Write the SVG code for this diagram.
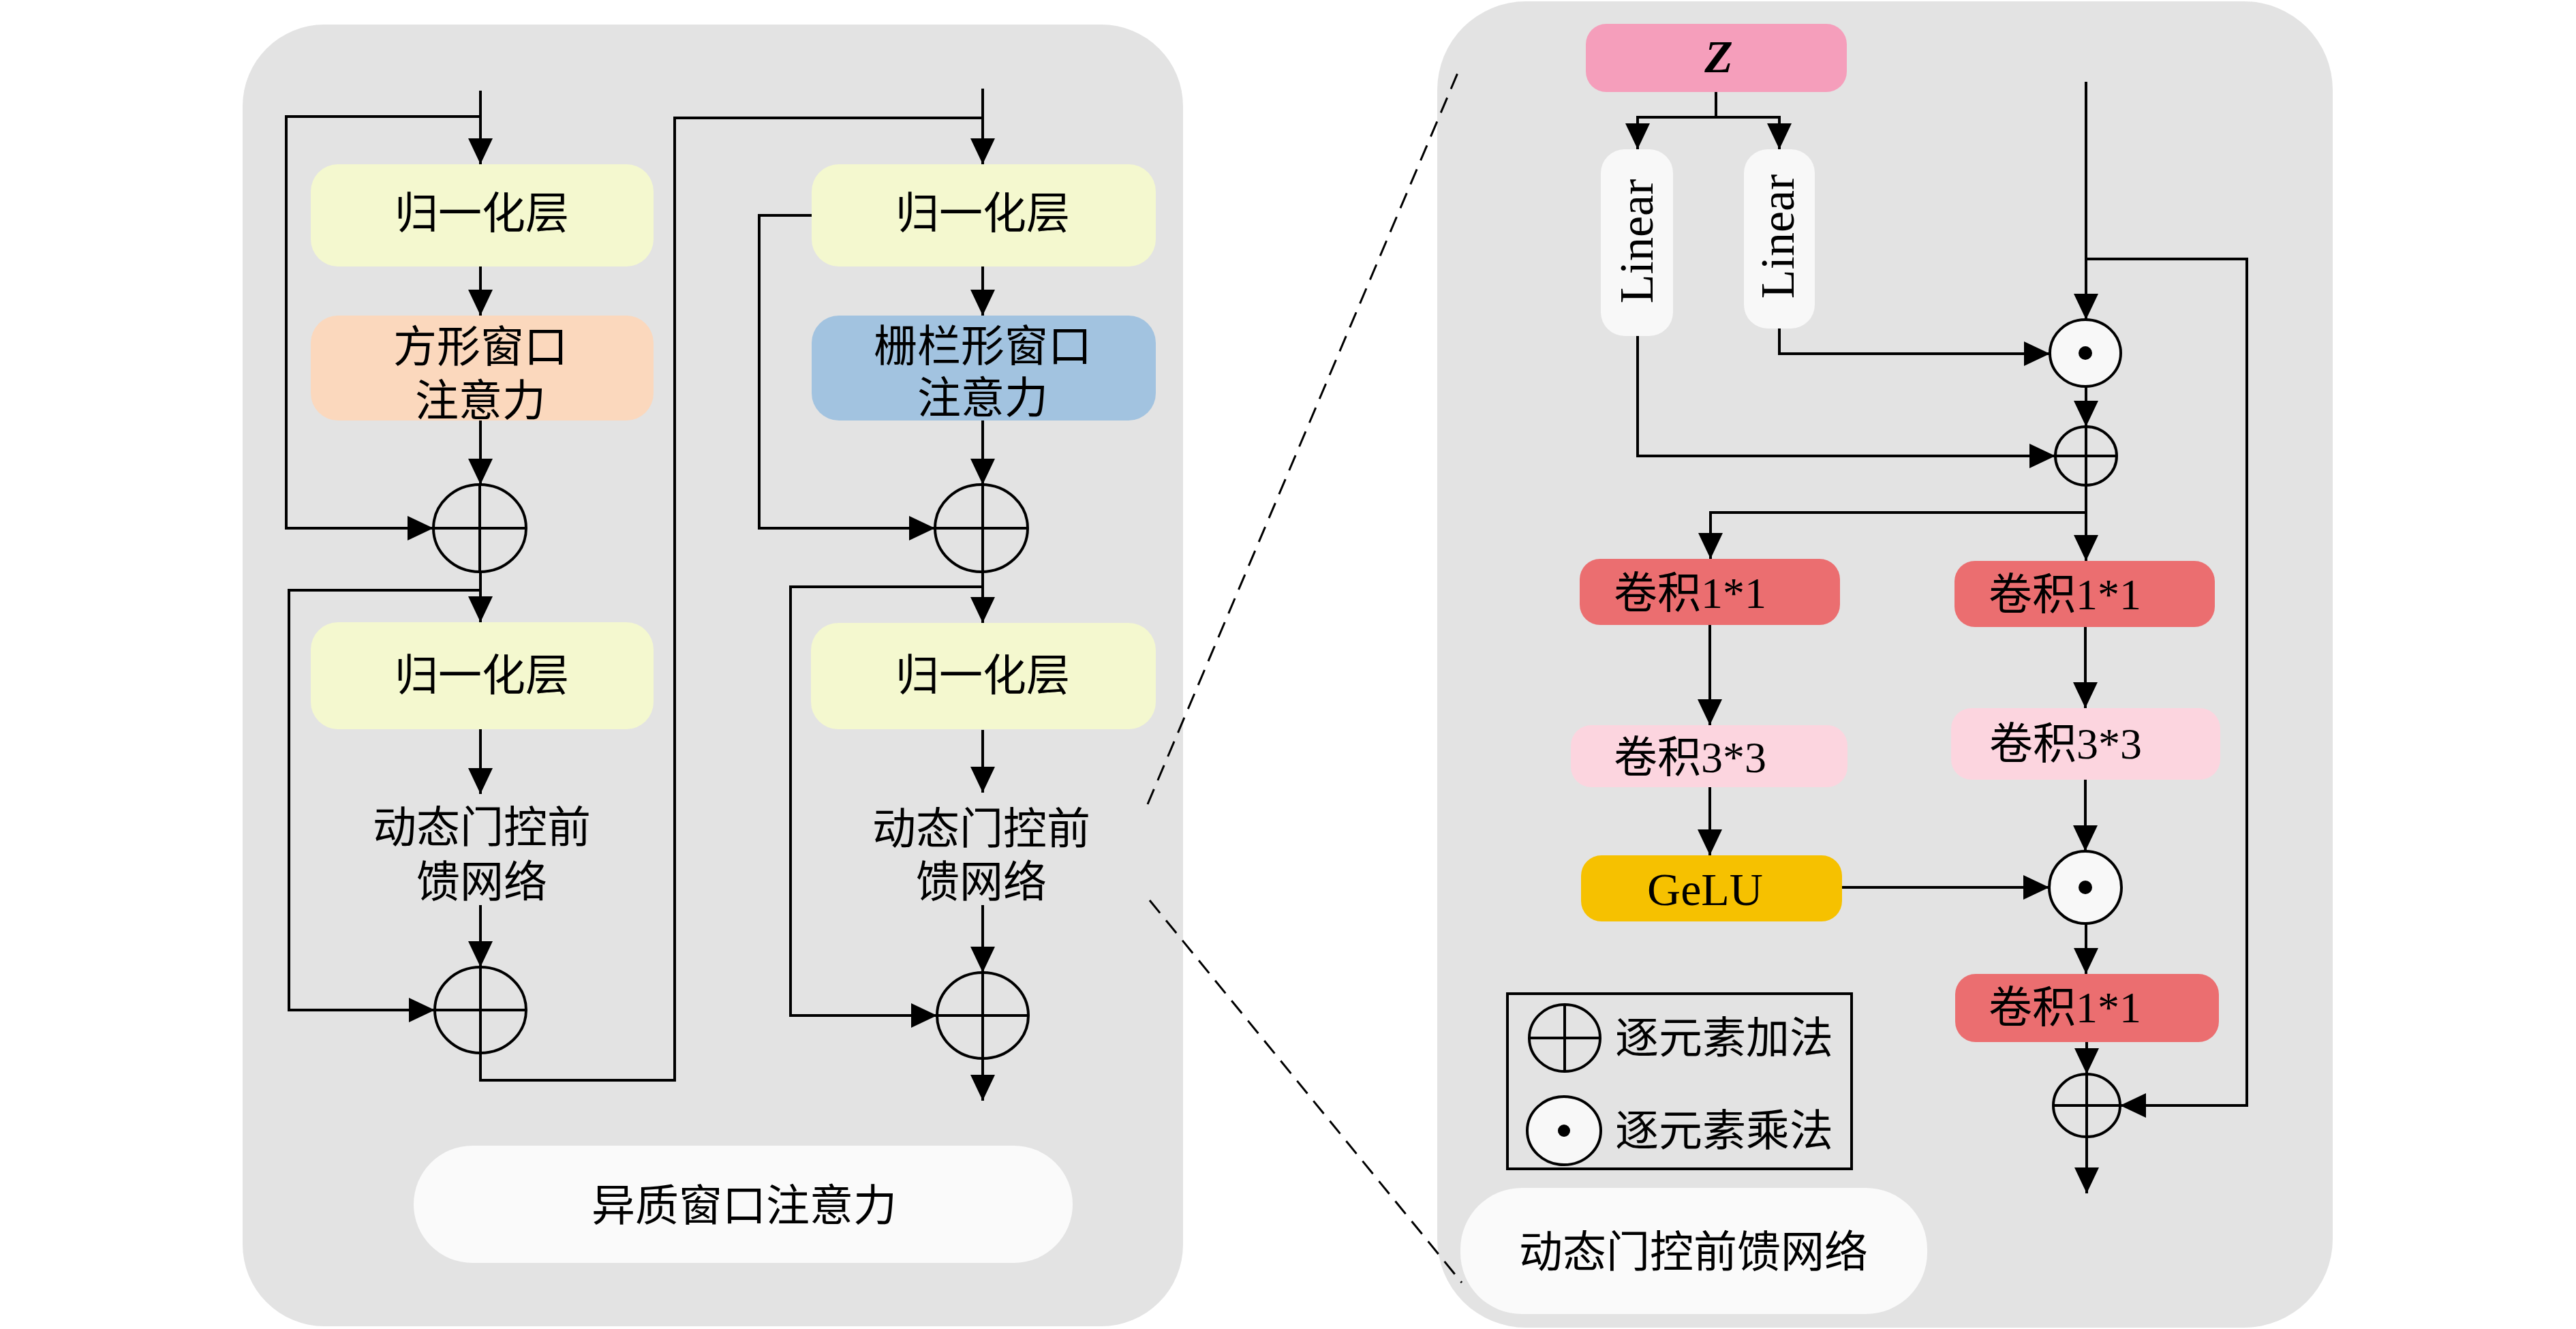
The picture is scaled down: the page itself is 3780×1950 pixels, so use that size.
<svg xmlns="http://www.w3.org/2000/svg" width="3780" height="1950" viewBox="0 0 3780 1950">
<defs>
<marker id="ah" markerUnits="userSpaceOnUse" markerWidth="38" markerHeight="36" refX="38" refY="18" orient="auto" viewBox="0 0 38 36"><path d="M0,0 L38,18 L0,36 z" fill="#000"/></marker>
<style>
.panel{fill:#E3E3E3;}
.lbl{fill:#FAFAFA;}
.norm{fill:#F4F8CF;}
.sq{fill:#FBD8BD;}
.st{fill:#A2C3E0;}
.z{fill:#F59EBB;}
.lin{fill:#F8F8F8;}
.c1{fill:#EB6E70;}
.c3{fill:#FCD5DF;}
.gelu{fill:#F6C100;}
.t{font-family:'Liberation Serif','Noto Sans CJK SC',serif;font-size:64px;fill:#000;text-anchor:middle;}
.tl{font-family:'Liberation Serif','Noto Sans CJK SC',serif;font-size:64px;fill:#000;text-anchor:start;}
.w{fill:none;stroke:#000;stroke-width:4;}
.a{fill:none;stroke:#000;stroke-width:4;marker-end:url(#ah);}
.sym{fill:none;stroke:#000;stroke-width:4;}
.symw{fill:#F8F8F8;stroke:#000;stroke-width:4;}
.dash{fill:none;stroke:#000;stroke-width:3;stroke-dasharray:24 14;}
</style>
</defs>
<rect width="3780" height="1950" fill="#FFFFFF"/>

<g id="panel-left"><rect class="panel" x="356" y="36" width="1380" height="1910" rx="120"/></g>
<g id="panel-right"><rect class="panel" x="2109" y="2" width="1314" height="1946" rx="130"/></g>

<g id="connectors">
<!-- left column 1 -->
<path class="a" d="M705,133 V241"/>
<path class="a" d="M705,171 H420 V775 H636"/>
<path class="a" d="M705,391 V463"/>
<path class="a" d="M705,617 V711"/>
<path class="a" d="M705,839 V913"/>
<path class="a" d="M705,866 H424 V1482 H638"/>
<path class="a" d="M705,1070 V1165"/>
<path class="a" d="M705,1328 V1419"/>
<path class="w" d="M705,1545 V1585 H990 V173 H1442"/>
<!-- left column 2 -->
<path class="a" d="M1442,130 V241"/>
<path class="a" d="M1191,316 H1114 V775 H1372"/>
<path class="a" d="M1442,391 V463"/>
<path class="a" d="M1442,617 V711"/>
<path class="a" d="M1442,839 V914"/>
<path class="a" d="M1442,861 H1160 V1490 H1375"/>
<path class="a" d="M1442,1071 V1163"/>
<path class="a" d="M1442,1328 V1427"/>
<path class="a" d="M1442,1553 V1615"/>
<!-- right panel -->
<path class="w" d="M2518,135 V172 M2403,172 H2611"/>
<path class="a" d="M2403,170 V219"/>
<path class="a" d="M2611,170 V219"/>
<path class="a" d="M3061,120 V469"/>
<path class="a" d="M3061,380 H3297 V1622 H3111"/>
<path class="a" d="M2611,482 V519 H3008"/>
<path class="a" d="M3061,567 V626"/>
<path class="a" d="M2403,493 V669 H3016"/>
<path class="a" d="M3061,712 V823"/>
<path class="a" d="M3061,752 H2510 V820"/>
<path class="a" d="M2509,917 V1064"/>
<path class="a" d="M2509,1155 V1255"/>
<path class="a" d="M3060,920 V1039"/>
<path class="a" d="M3060,1144 V1249"/>
<path class="a" d="M2703,1302 H3007"/>
<path class="a" d="M3061,1355 V1429"/>
<path class="a" d="M3062,1529 V1576"/>
<path class="a" d="M3062,1668 V1751"/>
<!-- zoom dashed lines -->
<path class="dash" d="M1684,1180 L2142,100"/>
<path class="dash" d="M1687,1321 L2145,1882"/>
</g>

<g id="norm1"><rect class="norm" x="456" y="241" width="503" height="150" rx="40"/><text class="t" x="707" y="335">归一化层</text></g>
<g id="attn-square"><rect class="sq" x="456" y="463" width="503" height="154" rx="40"/><text class="t" x="705" y="531">方形窗口</text><text class="t" x="705" y="610">注意力</text></g>
<g id="add1"><ellipse class="sym" cx="704" cy="775" rx="68" ry="64"/><path class="sym" d="M636,775 H772 M704,711 V839"/></g>
<g id="norm2"><rect class="norm" x="456" y="913" width="503" height="157" rx="40"/><text class="t" x="707" y="1013">归一化层</text></g>
<g id="ffn1"><text class="t" x="707" y="1236">动态门控前</text><text class="t" x="707" y="1316">馈网络</text></g>
<g id="add2"><ellipse class="sym" cx="705" cy="1482" rx="67" ry="63"/><path class="sym" d="M638,1482 H772 M705,1419 V1545"/></g>

<g id="norm3"><rect class="norm" x="1191" y="241" width="505" height="150" rx="40"/><text class="t" x="1442" y="335">归一化层</text></g>
<g id="attn-stripe"><rect class="st" x="1191" y="463" width="505" height="154" rx="40"/><text class="t" x="1442" y="530">栅栏形窗口</text><text class="t" x="1442" y="606">注意力</text></g>
<g id="add3"><ellipse class="sym" cx="1440" cy="775" rx="68" ry="64"/><path class="sym" d="M1372,775 H1508 M1442,711 V839"/></g>
<g id="norm4"><rect class="norm" x="1190" y="914" width="506" height="156" rx="40"/><text class="t" x="1442" y="1013">归一化层</text></g>
<g id="ffn2"><text class="t" x="1440" y="1238">动态门控前</text><text class="t" x="1440" y="1316">馈网络</text></g>
<g id="add4"><ellipse class="sym" cx="1442" cy="1490" rx="67" ry="63"/><path class="sym" d="M1375,1490 H1509 M1442,1427 V1553"/></g>

<g id="label-left"><rect class="lbl" x="607" y="1681" width="967" height="172" rx="86"/><text class="t" x="1092" y="1791">异质窗口注意力</text></g>

<g id="z"><rect class="z" x="2327" y="35" width="383" height="100" rx="30"/><text class="t" x="2522" y="106" style="font-weight:bold;font-style:italic;font-size:68px">Z</text></g>
<g id="linear1"><rect class="lin" x="2349" y="219" width="106" height="274" rx="35"/><text class="t" x="2402" y="377" style="font-size:70px" transform="rotate(-90 2402 354)">Linear</text></g>
<g id="linear2"><rect class="lin" x="2559" y="219" width="104" height="263" rx="35"/><text class="t" x="2609" y="370" style="font-size:70px" transform="rotate(-90 2609 347)">Linear</text></g>
<g id="mul1"><ellipse class="symw" cx="3060" cy="518" rx="52" ry="49"/><circle cx="3060" cy="518" r="10" fill="#000"/></g>
<g id="add5"><ellipse class="sym" cx="3061" cy="669" rx="45" ry="43"/><path class="sym" d="M3016,669 H3106 M3061,626 V712"/></g>
<g id="conv1a"><rect class="c1" x="2318" y="820" width="382" height="97" rx="30"/><text class="t" x="2480" y="892">卷积1*1</text></g>
<g id="conv1b"><rect class="c1" x="2868" y="823" width="382" height="97" rx="30"/><text class="t" x="3030" y="894">卷积1*1</text></g>
<g id="conv3a"><rect class="c3" x="2305" y="1064" width="406" height="91" rx="30"/><text class="t" x="2480" y="1133">卷积3*3</text></g>
<g id="conv3b"><rect class="c3" x="2863" y="1039" width="395" height="105" rx="30"/><text class="t" x="3031" y="1113">卷积3*3</text></g>
<g id="gelu"><rect class="gelu" x="2320" y="1255" width="383" height="97" rx="30"/><text class="t" x="2502" y="1328" style="font-size:68px">GeLU</text></g>
<g id="mul2"><circle class="symw" cx="3060" cy="1302" r="53"/><circle cx="3060" cy="1302" r="10" fill="#000"/></g>
<g id="conv1c"><rect class="c1" x="2869" y="1429" width="387" height="100" rx="30"/><text class="t" x="3030" y="1500">卷积1*1</text></g>
<g id="add6"><ellipse class="sym" cx="3062" cy="1622" rx="49" ry="46"/><path class="sym" d="M3013,1622 H3111 M3062,1576 V1668"/></g>

<g id="legend">
<rect x="2212" y="1458" width="505" height="257" fill="none" stroke="#000" stroke-width="4"/>
<ellipse class="sym" cx="2296" cy="1523" rx="52" ry="49"/><path class="sym" d="M2244,1523 H2348 M2296,1474 V1572"/>
<text class="tl" x="2370" y="1545">逐元素加法</text>
<ellipse class="symw" cx="2295" cy="1659" rx="54" ry="50"/><circle cx="2295" cy="1659" r="9" fill="#000"/>
<text class="tl" x="2370" y="1681">逐元素乘法</text>
</g>

<g id="label-right"><rect class="lbl" x="2143" y="1743" width="685" height="185" rx="90"/><text class="t" x="2485" y="1859">动态门控前馈网络</text></g>
</svg>
